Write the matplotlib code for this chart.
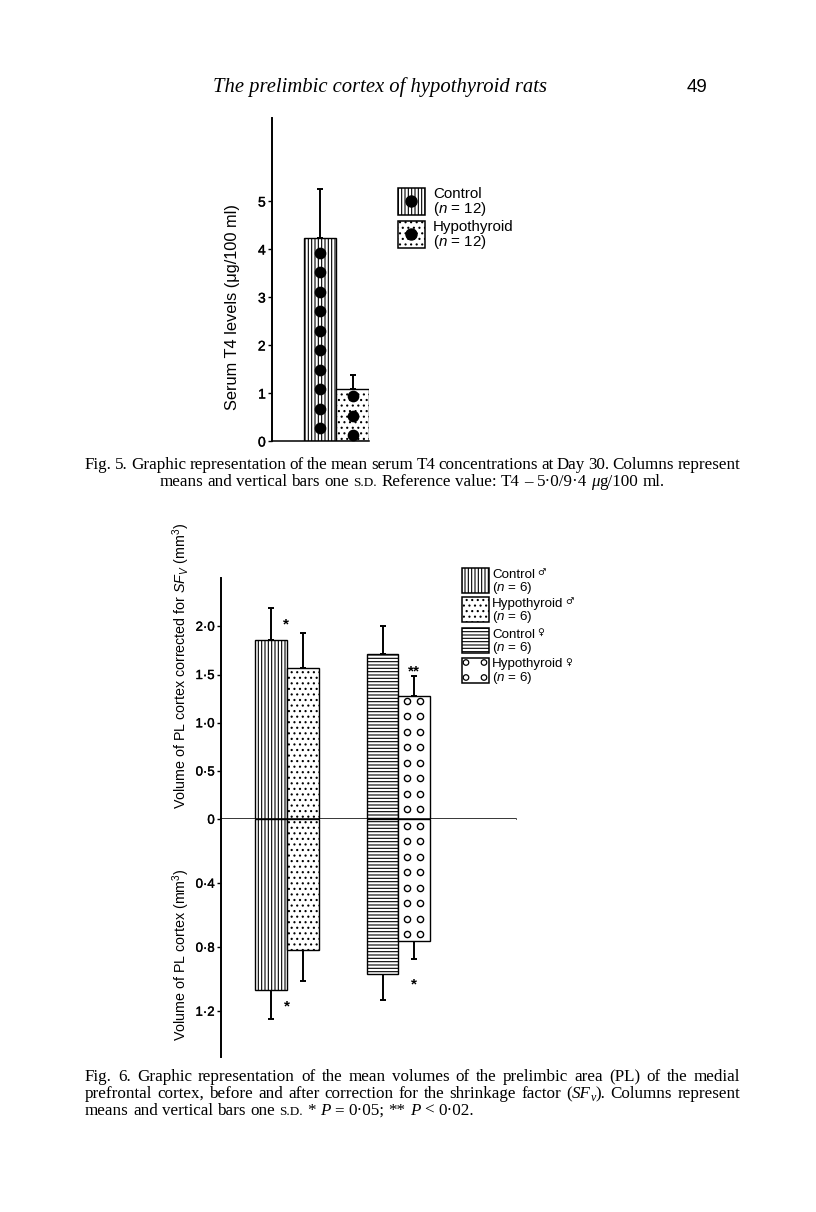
import numpy as np
import matplotlib
matplotlib.use("Agg")
import matplotlib.pyplot as plt
import matplotlib.patheffects as pe
from matplotlib.patches import Rectangle, Ellipse

# ---------------- data ----------------
t4_groups = ["Control", "Hypothyroid"]
t4_n = [12, 12]
t4_mean = [4.23, 1.08]
t4_sd = [1.02, 0.30]
t4_ticks = [0, 1, 2, 3, 4, 5]

pl_groups = ["Control", "Hypothyroid", "Control", "Hypothyroid"]
pl_sex = ["♂", "♂", "♀", "♀"]
pl_n = [6, 6, 6, 6]
pl_corr_mean = [1.86, 1.57, 1.71, 1.28]
pl_corr_sd = [0.33, 0.36, 0.29, 0.20]
pl_raw_mean = [1.07, 0.82, 0.97, 0.76]
pl_raw_sd = [0.18, 0.19, 0.16, 0.115]
corr_ticks = [0, 0.5, 1.0, 1.5, 2.0]
corr_ticklabels = ["0", "0·5", "1·0", "1·5", "2·0"]
raw_ticks = [0.4, 0.8, 1.2]
raw_ticklabels = ["0·4", "0·8", "1·2"]
corr_sig = ["*", "**"]   # male pair, female pair
raw_sig = ["*", "*"]

# ---------------- setup ----------------
plt.rcParams['font.family'] = ['Liberation Sans', 'DejaVu Sans']
plt.rcParams['mathtext.fontset'] = 'custom'
plt.rcParams['mathtext.rm'] = 'Liberation Sans'
plt.rcParams['mathtext.it'] = 'Liberation Sans:italic'
plt.rcParams['hatch.linewidth'] = 0.8

W, H = 816, 1212
fig = plt.figure(figsize=(W / 100, H / 100), dpi=100)
renderer = fig.canvas.get_renderer()
SERIF = ['Liberation Serif', 'DejaVu Serif']
SANS = ['Liberation Sans', 'DejaVu Sans']
THICK = [pe.withStroke(linewidth=0.25, foreground='black')]


def ax_px(l, t, r, b):
    return fig.add_axes([l / W, 1 - b / H, (r - l) / W, (b - t) / H])


def twidth(t):
    return t.get_window_extent(renderer=renderer).width


def fit_size(txt, target, size0=10, **kw):
    t = fig.text(0, 0, txt, fontsize=size0, **kw)
    w = twidth(t)
    t.remove()
    return size0 * target / w


def style_axes(ax, bottom=True):
    for s in ['top', 'right']:
        ax.spines[s].set_visible(False)
    ax.spines['bottom'].set_visible(bottom)
    ax.spines['left'].set_linewidth(1.4)
    ax.spines['bottom'].set_linewidth(1.1)
    ax.set_xticks([])
    ax.tick_params(axis='y', direction='out', length=3, width=1.0, pad=1.5, colors='black')


def thicken(labels):
    for t in labels:
        t.set_path_effects(THICK)


# ---------------- rich text lines ----------------
def words_of(s, kw=None):
    return [[(w, dict(kw or {}))] for w in s.split()]


def build_line(x0, yb, words, size, family, width=None, center=None):
    objs, widths = [], []
    for word in words:
        runs, ww = [], 0.0
        for txt, kw in word:
            kw = dict(kw)
            rel = kw.pop('rel', 1.0)
            dy = kw.pop('dy', 0.0)
            t = fig.text(0, 1 - (yb + dy * size * 100 / 72) / H, txt, fontsize=size * rel,
                         family=family, va='baseline', ha='left', **kw)
            w = twidth(t)
            runs.append((t, ww))
            ww += w
        objs.append(runs)
        widths.append(ww)
    space = 0.25 * size * 100 / 72
    natural = sum(widths) + space * (len(words) - 1)
    if width is not None and len(words) > 1:
        space = (width - sum(widths)) / (len(words) - 1)
    if center is not None:
        x0 = center - natural / 2
    x = x0
    for runs, ww in zip(objs, widths):
        for t, off in runs:
            t.set_x((x + off) / W)
        x += ww + space
    return objs, natural


def remove_line(objs):
    for runs in objs:
        for t, _ in runs:
            t.remove()


IT = {'style': 'italic'}
SC = {'rel': 0.78}

# ---------------- header ----------------
hsize = fit_size("The prelimbic cortex of hypothyroid rats", 334, family=SERIF, style='italic')
fig.text(213 / W, 1 - 92 / H, "The prelimbic cortex of hypothyroid rats", fontsize=hsize,
         family=SERIF, style='italic', va='baseline', ha='left')
fig.text(687 / W, 1 - 92 / H, "49", fontsize=13.5, family=SANS, va='baseline', ha='left')

# ---------------- Fig. 5 ----------------
ax5 = ax_px(272, 118, 369, 441)
ax5.set_xlim(0.03, 3.0)
ax5.set_ylim(0, 6.73)
x5 = np.array([1.5, 2.5])
hatch5 = ['|||||', '...']
for x, m, h in zip(x5, t4_mean, hatch5):
    ax5.bar(x, m, 1.0, color='white', edgecolor='black', hatch=h, lw=1.0, zorder=2)
ax5.errorbar(x5, t4_mean, yerr=[np.zeros(len(t4_sd)), t4_sd], fmt='none', ecolor='black',
             elinewidth=1.4, capsize=2.3, capthick=1.4, zorder=1)
ppu5 = 323 / 6.73
starts5 = [13 / ppu5, 6 / ppu5]
for x, m, s0 in zip(x5, t4_mean, starts5):
    ys = np.arange(s0, m - 6 / ppu5, 19.5 / ppu5)
    ax5.scatter(np.full(len(ys), x), ys, s=55, c='black', zorder=3, clip_on=False)
style_axes(ax5)
ax5.set_yticks(t4_ticks)
ax5.set_yticklabels([str(v) for v in t4_ticks], fontsize=10)
thicken(ax5.get_yticklabels())

lab5 = "Serum T4 levels (μg/100 ml)"
fig.text(233 / W, 1 - 307 / H, lab5, fontsize=11.8, family=SANS, rotation=90, ha='center',
         va='center')

# legend fig 5
leg5_size = fit_size("Hypothyroid", 81, family=SANS)
box_y5 = [188, 221]
for i, (g, n, h) in enumerate(zip(t4_groups, t4_n, hatch5)):
    top = box_y5[i]
    r = Rectangle((398 / W, 1 - (top + 27) / H), 27 / W, 27 / H, transform=fig.transFigure,
                  facecolor='white', edgecolor='black', hatch=h, lw=1.1)
    fig.add_artist(r)
    fig.add_artist(Ellipse((411.5 / W, 1 - (top + 13.5) / H), 11 / W, 11 / H,
                           transform=fig.transFigure, color='black'))
    fig.text(433 / W, 1 - (top + 6.5) / H, g, fontsize=leg5_size, family=SANS, va='center',
             ha='left')
    fig.text(433 / W, 1 - (top + 21) / H, "($n$ = %d)" % n, fontsize=leg5_size, family=SANS,
             va='center', ha='left')

# ---------------- Fig. 6 ----------------
axu = ax_px(221, 578, 516, 819.3)
axl = ax_px(221, 819.3, 516, 1057)
xl = (0, 295 / 32.5)
for a in (axu, axl):
    a.set_xlim(*xl)
axu.set_ylim(0, 2.5)
axl.set_ylim(1.486, 0)
bw = 0.98
x6 = np.array([1.55, 1.55 + bw, 4.97, 4.97 + bw])
hatch6 = ['|||||', '...', '-----', None]
ppu_u = 241.3 / 2.5
ppu_l = 237.7 / 1.486
ppx = 32.5

for a, means, sds, ppu, start in ((axu, pl_corr_mean, pl_corr_sd, ppu_u, 10.0),
                                  (axl, pl_raw_mean, pl_raw_sd, ppu_l, 6.4)):
    for x, m, h in zip(x6, means, hatch6):
        a.bar(x, m, bw, color='white', edgecolor='black', hatch=h, lw=1.0, zorder=2)
    a.errorbar(x6, means, yerr=[np.zeros(len(sds)), sds], fmt='none', ecolor='black',
               elinewidth=1.4, capsize=2.0, capthick=1.4, zorder=1)
    # open-circle pattern for hypothyroid females
    m = means[3]
    ys = np.arange(start / ppu, m - 5 / ppu, 15.5 / ppu)
    for dx in (-7.5, 6.0):
        a.scatter(np.full(len(ys), x6[3] + dx / ppx), ys, s=20, facecolor='white',
                  edgecolor='black', linewidths=1.0, zorder=3)

style_axes(axu, bottom=True)
style_axes(axl, bottom=False)
axu.set_yticks(corr_ticks)
axu.set_yticklabels(corr_ticklabels, fontsize=9.5)
axl.set_yticks(raw_ticks)
axl.set_yticklabels(raw_ticklabels, fontsize=9.5)
thicken(axu.get_yticklabels())
thicken(axl.get_yticklabels())

# significance markers
sig_kw = dict(ha='center', va='center', fontsize=11, fontweight='bold')
axu.text(x6[0] + 0.47 * bw, pl_corr_mean[1] + pl_corr_sd[1] + 0.09, corr_sig[0], **sig_kw)
axu.text(x6[3], pl_corr_mean[3] + pl_corr_sd[3] + 0.05, corr_sig[1], **sig_kw)
axl.text(x6[0] + 0.5 * bw, pl_raw_mean[0] + 0.10, raw_sig[0], **sig_kw)
axl.text(x6[3], pl_raw_mean[3] + pl_raw_sd[3] + 0.16, raw_sig[1], **sig_kw)

labu = "Volume of PL cortex corrected for $SF_V$ (mm$^3$)"
lsu = fit_size(labu, 285, family=SANS)
fig.text(181 / W, 1 - 666 / H, labu, fontsize=lsu, family=SANS, rotation=90, ha='center',
         va='center')
labl = "Volume of PL cortex (mm$^3$)"
fig.text(181 / W, 1 - 955 / H, labl, fontsize=lsu, family=SANS, rotation=90, ha='center',
         va='center')

# legend fig 6
leg6_size = fit_size("Hypothyroid", 72, family=SANS)
box_y6 = [568, 597, 628, 658]
for i, (g, sx, n, h) in enumerate(zip(pl_groups, pl_sex, pl_n, hatch6)):
    top = box_y6[i]
    r = Rectangle((462 / W, 1 - (top + 25) / H), 27 / W, 25 / H, transform=fig.transFigure,
                  facecolor='white', edgecolor='black', hatch=h, lw=1.1)
    fig.add_artist(r)
    if h is None:
        for cx, cy in ((466, top + 4.5), (484, top + 4.5), (466, top + 19.5), (484, top + 19.5)):
            fig.add_artist(Ellipse((cx / W, 1 - cy / H), 5.5 / W, 5.5 / H, transform=fig.transFigure,
                                   facecolor='white', edgecolor='black', lw=0.9))
    t = fig.text(492 / W, 1 - (top + 6.5) / H, g, fontsize=leg6_size, family=SANS, va='center',
                 ha='left')
    w = twidth(t)
    fig.text((492 + w + 2) / W, 1 - (top + 4.5) / H, sx, fontsize=leg6_size * 0.7,
             family=['DejaVu Sans'], va='center', ha='left')
    fig.text(492 / W, 1 - (top + 20) / H, "($n$ = %d)" % n, fontsize=leg6_size, family=SANS,
             va='center', ha='left')

# ---------------- captions ----------------
cap5_l1 = words_of("Fig. 5. Graphic representation of the mean serum T4 concentrations at Day 30. Columns represent")
cap5_l2 = (words_of("means and vertical bars one") + [[("S.D.", SC)]] +
           words_of("Reference value: T4 – 5·0/9·4") + [[("μ", IT), ("g/100", {})]] + words_of("ml."))
cap6_l1 = words_of("Fig. 6. Graphic representation of the mean volumes of the prelimbic area (PL) of the medial")
cap6_l2 = (words_of("prefrontal cortex, before and after correction for the shrinkage factor") +
           [[("(", {}), ("SF", IT), ("v", {'style': 'italic', 'rel': 0.7, 'dy': 0.2}), (").", {})]] +
           words_of("Columns represent"))
cap6_l3 = (words_of("means and vertical bars one") + [[("S.D.", SC)]] +
           [[("*", {})], [("P", IT)]] + words_of("= 0·05;") + [[("**", {})], [("P", IT)]] + words_of("< 0·02."))

objs, nat = build_line(0, 0, cap5_l2, 11, SERIF)
remove_line(objs)
csize = 11 * 505 / nat

build_line(85, 469, cap5_l1, csize, SERIF, width=655)
build_line(0, 486, cap5_l2, csize, SERIF, center=412)
build_line(85, 1081, cap6_l1, csize, SERIF, width=655)
build_line(85, 1098, cap6_l2, csize, SERIF, width=655)
build_line(85, 1115, cap6_l3, csize, SERIF)

fig.savefig("out.png", dpi=100)
